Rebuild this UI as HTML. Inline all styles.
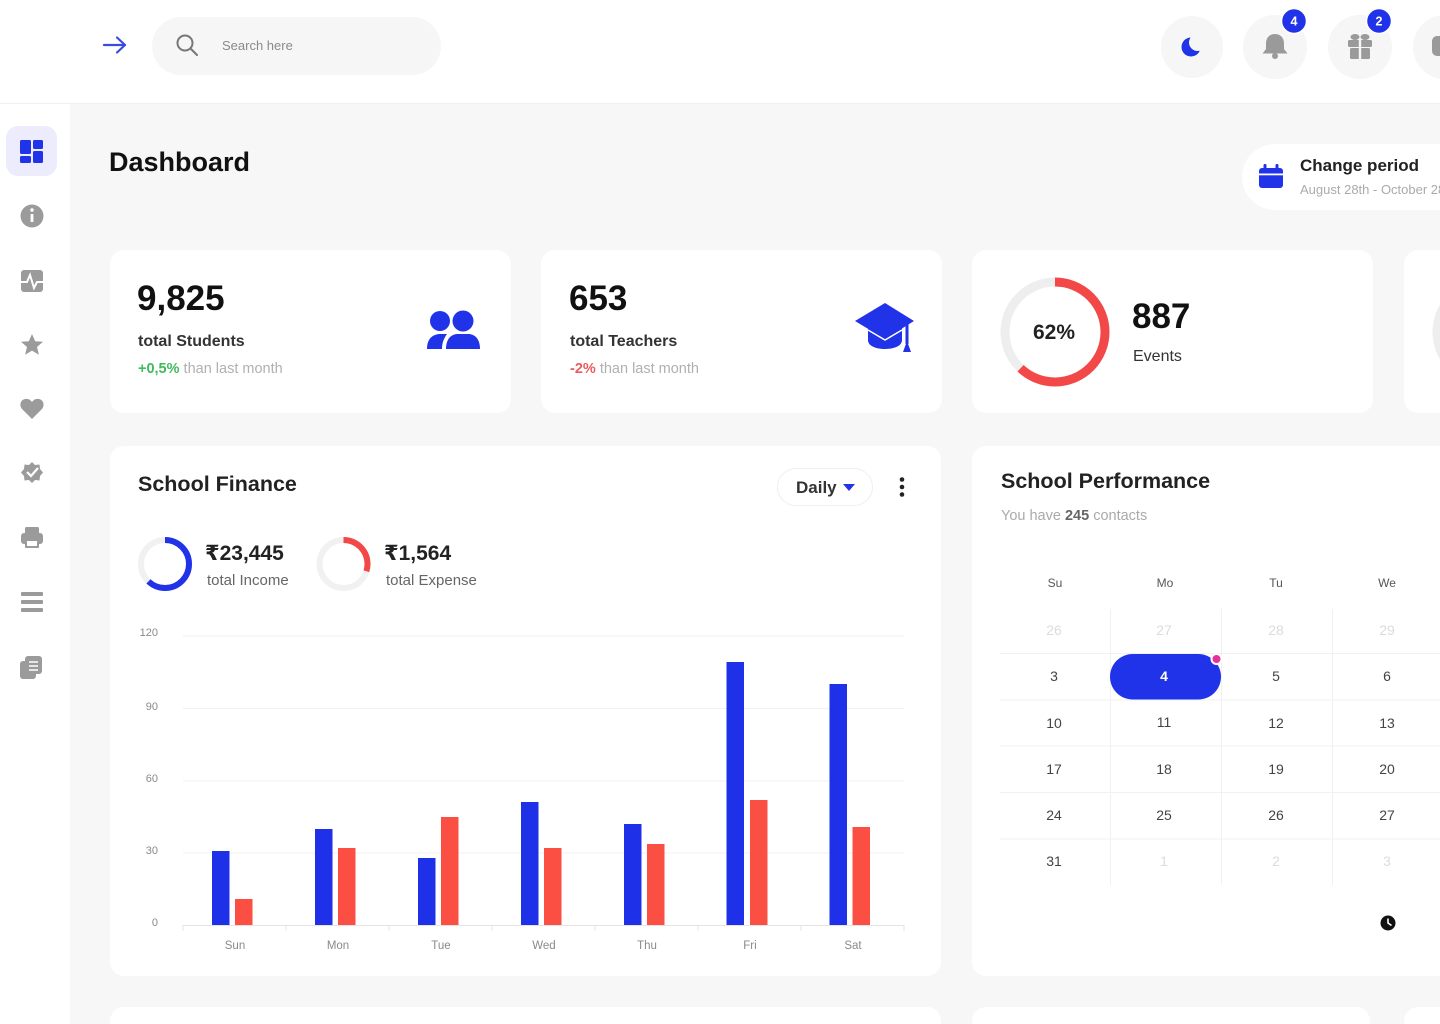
<!DOCTYPE html>
<html><head><meta charset="utf-8">
<style>
*{margin:0;padding:0;box-sizing:border-box}
html,body{width:1440px;height:1024px;overflow:hidden;background:#f7f7f7;font-family:"Liberation Sans","DejaVu Sans",sans-serif;color:#222}
.abs{position:absolute}
.t{position:absolute;white-space:nowrap;line-height:1}
.card{position:absolute;background:#fff;border-radius:14px}
svg{position:absolute;left:0;top:0}
</style></head><body>

<!-- header -->
<div class="abs" style="left:0;top:0;width:1440px;height:104px;background:#fff;border-bottom:1px solid #efefef"></div>
<div class="abs" style="left:0;top:104px;width:70px;height:920px;background:#fff"></div>
<div class="abs" style="left:152px;top:17px;width:289px;height:58px;border-radius:29px;background:#f6f6f6"></div>
<div class="abs" style="left:1161px;top:16px;width:62px;height:62px;border-radius:50%;background:#f6f6f6"></div>
<div class="abs" style="left:1243px;top:15px;width:64px;height:64px;border-radius:50%;background:#f6f6f6"></div>
<div class="abs" style="left:1328px;top:15px;width:64px;height:64px;border-radius:50%;background:#f6f6f6"></div>
<div class="abs" style="left:1413px;top:15px;width:64px;height:64px;border-radius:50%;background:#f6f6f6"></div>
<div class="t" style="left:222px;top:39px;font-size:13px;color:#8a8a8a">Search here</div>

<!-- sidebar active -->
<div class="abs" style="left:6px;top:126px;width:51px;height:50px;border-radius:12px;background:#ececfc"></div>

<div class="t" style="left:109px;top:149px;font-size:27px;font-weight:bold;color:#111">Dashboard</div>

<!-- change period -->
<div class="abs" style="left:1242px;top:144px;width:240px;height:66px;border-radius:33px;background:#fff"></div>
<div class="t" style="left:1300px;top:157px;font-size:17px;font-weight:bold;color:#222">Change period</div>
<div class="t" style="left:1300px;top:183px;font-size:13px;color:#aaa">August 28th - October 28th</div>

<!-- stat cards -->
<div class="card" style="left:110px;top:250px;width:401px;height:163px"></div>
<div class="card" style="left:541px;top:250px;width:401px;height:163px"></div>
<div class="card" style="left:972px;top:250px;width:401px;height:163px"></div>
<div class="card" style="left:1404px;top:250px;width:401px;height:163px"></div>

<div class="t" style="left:137px;top:281px;font-size:35px;font-weight:bold;color:#111">9,825</div>
<div class="t" style="left:138px;top:334px;font-size:16px;font-weight:bold;color:#333">total Students</div>
<div class="t" style="left:138px;top:362px;font-size:14.5px;color:#b0b0b0"><b style="color:#3fba5c">+0,5%</b> than last month</div>

<div class="t" style="left:569px;top:281px;font-size:35px;font-weight:bold;color:#111">653</div>
<div class="t" style="left:570px;top:334px;font-size:16px;font-weight:bold;color:#333">total Teachers</div>
<div class="t" style="left:570px;top:362px;font-size:14.5px;color:#b0b0b0"><b style="color:#ec5b5b">-2%</b> than last month</div>

<div class="t" style="left:1132px;top:299px;font-size:35px;font-weight:bold;color:#111">887</div>
<div class="t" style="left:1133px;top:349px;font-size:16px;color:#333">Events</div>
<div class="t" style="left:1033px;top:322px;font-size:21px;font-weight:bold;color:#222">62%</div>

<!-- finance card -->
<div class="card" style="left:110px;top:446px;width:831px;height:530px"></div>
<div class="t" style="left:138px;top:474px;font-size:21.5px;font-weight:bold;color:#222">School Finance</div>
<div class="abs" style="left:777px;top:468px;width:96px;height:38px;border-radius:19px;border:1px solid #efefef;background:#fff"></div>
<div class="t" style="left:796px;top:479px;font-size:17px;font-weight:bold;color:#333">Daily</div>
<div class="t" style="left:205px;top:543px;font-size:21px;font-weight:bold;color:#222">₹23,445</div>
<div class="t" style="left:207px;top:573px;font-size:15px;color:#666">total Income</div>
<div class="t" style="left:384px;top:543px;font-size:21px;font-weight:bold;color:#222">₹1,564</div>
<div class="t" style="left:386px;top:573px;font-size:15px;color:#666">total Expense</div>

<!-- performance card -->
<div class="card" style="left:972px;top:446px;width:500px;height:530px"></div>
<div class="t" style="left:1001px;top:471px;font-size:21.5px;font-weight:bold;color:#222">School Performance</div>
<div class="t" style="left:1001px;top:509px;font-size:14.5px;color:#aaa">You have <b style="color:#666">245</b> contacts</div>

<!-- bottom cards -->
<div class="abs" style="left:110px;top:1007px;width:831px;height:17px;background:#fff;border-radius:14px 14px 0 0"></div>
<div class="abs" style="left:972px;top:1007px;width:398px;height:17px;background:#fff;border-radius:14px 14px 0 0"></div>
<div class="abs" style="left:1404px;top:1007px;width:36px;height:17px;background:#fff;border-radius:14px 0 0 0"></div>

<svg width="1440" height="1024" viewBox="0 0 1440 1024">
  <!-- header arrow -->
  <g stroke="#3a4be0" stroke-width="2.2" fill="none" stroke-linecap="round" stroke-linejoin="round">
    <line x1="104" y1="45" x2="125" y2="45"/>
    <polyline points="117,37.5 125,45 117,52.5"/>
  </g>
  <!-- search icon -->
  <g stroke="#777" stroke-width="2" fill="none" stroke-linecap="round">
    <circle cx="185" cy="43" r="7.5"/>
    <line x1="190.5" y1="48.5" x2="197" y2="55"/>
  </g>
  <!-- moon -->
  <circle cx="1191" cy="47" r="9.5" fill="#2133e8"/>
  <circle cx="1197.5" cy="42.5" r="8.5" fill="#f6f6f6"/>
  <!-- bell -->
  <path d="M1275 34 c-6 0 -9 4.5 -9 9.5 v5.5 l-3.5 4.5 h25 l-3.5 -4.5 v-5.5 c0 -5 -3 -9.5 -9 -9.5z" fill="#9a9a9a"/>
  <circle cx="1275" cy="56" r="3" fill="#9a9a9a"/>
  <!-- gift -->
  <g fill="#9a9a9a">
    <rect x="1348" y="40" width="24" height="7" rx="1.5"/>
    <rect x="1350" y="48" width="20" height="11" rx="1.5"/>
    <ellipse cx="1355" cy="37" rx="4.5" ry="3"/>
    <ellipse cx="1365" cy="37" rx="4.5" ry="3"/>
  </g>
  <rect x="1358.8" y="38" width="2.4" height="22" fill="#f6f6f6"/>
  <!-- 4th icon partial -->
  <rect x="1432" y="36" width="14" height="20" rx="5" fill="#9a9a9a"/>
  <!-- badges -->
  <circle cx="1294" cy="21" r="12.5" fill="#2133e8" stroke="#fff" stroke-width="1.5"/>
  <text x="1294" y="25.5" font-size="12.5" font-weight="bold" fill="#fff" text-anchor="middle">4</text>
  <circle cx="1379" cy="21" r="12.5" fill="#2133e8" stroke="#fff" stroke-width="1.5"/>
  <text x="1379" y="25.5" font-size="12.5" font-weight="bold" fill="#fff" text-anchor="middle">2</text>

  <!-- calendar icon change period -->
  <rect x="1259" y="168" width="24" height="20" rx="3" fill="#2133e8"/>
  <rect x="1263.5" y="164" width="3" height="6" rx="1.2" fill="#2133e8"/>
  <rect x="1275.5" y="164" width="3" height="6" rx="1.2" fill="#2133e8"/>
  <rect x="1259" y="173.5" width="24" height="1.8" fill="#fff"/>

  <!-- sidebar icons -->
  <g fill="#2133e8">
    <rect x="20" y="140" width="11" height="14" rx="1.5"/>
    <rect x="33" y="140" width="10" height="9" rx="1.5"/>
    <rect x="20" y="156" width="11" height="7" rx="1.5"/>
    <rect x="33" y="151" width="10" height="12" rx="1.5"/>
  </g>
  <g fill="#9b9b9b">
    <circle cx="32" cy="216" r="11.5"/>
    <rect x="21" y="270" width="22" height="22" rx="3"/>
    <polygon points="32,334 35.2,341.2 43,341.8 37,347 38.9,354.7 32,350.6 25.1,354.7 27,347 21,341.8 28.8,341.2"/>
    <path d="M32 419 L22.5 409.5 C19 406 20 400 25 399 C28.5 398.3 30.5 400 32 402 C33.5 400 35.5 398.3 39 399 C44 400 45 406 41.5 409.5 Z"/>
    <polygon points="32,462 35,465 39.5,464.5 40,469 43,472.5 40,476 39.5,480.5 35,480 32,483 29,480 24.5,480.5 24,476 21,472.5 24,469 24.5,464.5 29,465"/>
    <rect x="25" y="527" width="14" height="7" rx="1.5"/>
    <rect x="21" y="533" width="22" height="11" rx="3"/>
    <rect x="25" y="540" width="14" height="8" rx="1"/>
    <rect x="21" y="592" width="22" height="4" rx="1"/>
    <rect x="21" y="600" width="22" height="4" rx="1"/>
    <rect x="21" y="608" width="22" height="4" rx="1"/>
    <rect x="20" y="661" width="16" height="18" rx="3"/>
    <rect x="25" y="656" width="17" height="18" rx="3"/>
  </g>
  <rect x="30.6" y="214" width="2.8" height="8" fill="#fff"/>
  <circle cx="32" cy="210" r="1.8" fill="#fff"/>
  <polyline points="21,282 27,282 30,275 34,288 37,282 43,282" stroke="#fff" stroke-width="2" fill="none"/>
  <polyline points="27,472 31,476 38,468" stroke="#fff" stroke-width="2.2" fill="none"/>
  <rect x="27" y="541" width="10" height="5" fill="#fff"/>
  <g stroke="#fff" stroke-width="1.5"><line x1="29" y1="662" x2="38" y2="662"/><line x1="29" y1="666" x2="38" y2="666"/><line x1="29" y1="670" x2="38" y2="670"/></g>

  <!-- people icon -->
  <g fill="#2133e8">
    <circle cx="440" cy="321" r="10"/>
    <circle cx="463" cy="321" r="10.5"/>
    <path d="M427 349 C427 340 431 335 439 334 L447 334 C444 338 442 343 442 349 Z"/>
    <path d="M446 349 C446 339 451 334 458 334 L468 334 C475 334 480 339 480 349 Z"/>
  </g>
  <!-- grad cap -->
  <g fill="#2133e8">
    <polygon points="885,303 914,321 885,339 855,321"/>
    <path d="M868 328 L885 338 L902 328 L902 340 C902 346 894 349 885 349 C876 349 868 346 868 340 Z"/>
    <rect x="905.5" y="322" width="3" height="22"/>
    <path d="M903 352 L907 341 L911 352 Z"/>
  </g>
  <path d="M868 330 L885 340 L902 330" stroke="#fff" stroke-width="1.5" fill="none"/>

  <!-- events donut -->
  <circle cx="1055" cy="332" r="50" fill="none" stroke="#eeeeee" stroke-width="9"/>
  <circle cx="1055" cy="332" r="50" fill="none" stroke="#f24848" stroke-width="9" stroke-dasharray="194.8 400" transform="rotate(-90 1055 332)"/>
  <circle cx="1487" cy="332" r="50" fill="none" stroke="#eeeeee" stroke-width="9"/>

  <!-- finance donuts -->
  <circle cx="165" cy="564" r="24" fill="none" stroke="#f1f1f1" stroke-width="6"/>
  <circle cx="165" cy="564" r="24" fill="none" stroke="#2133e8" stroke-width="6" stroke-dasharray="93.5 200" transform="rotate(-90 165 564)"/>
  <circle cx="343.5" cy="564" r="24" fill="none" stroke="#f1f1f1" stroke-width="6"/>
  <circle cx="343.5" cy="564" r="24" fill="none" stroke="#f24848" stroke-width="6" stroke-dasharray="45 200" transform="rotate(-90 343.5 564)"/>

  <!-- daily caret / kebab -->
  <polygon points="843,484 855,484 849,491" fill="#2133e8"/>
  <circle cx="902" cy="479.5" r="2.3" fill="#222"/>
  <circle cx="902" cy="487" r="2.3" fill="#222"/>
  <circle cx="902" cy="494.5" r="2.3" fill="#222"/>

  <!-- chart -->
  <g stroke="#f1f1f1" stroke-width="1">
    <line x1="183" y1="636" x2="904" y2="636"/>
    <line x1="183" y1="708.5" x2="904" y2="708.5"/>
    <line x1="183" y1="781" x2="904" y2="781"/>
    <line x1="183" y1="853" x2="904" y2="853"/>
  </g>
  <line x1="183" y1="925.5" x2="904" y2="925.5" stroke="#e4e4e4"/>
  <g stroke="#e4e4e4">
    <line x1="183" y1="925" x2="183" y2="931"/><line x1="286" y1="925" x2="286" y2="931"/>
    <line x1="389" y1="925" x2="389" y2="931"/><line x1="492" y1="925" x2="492" y2="931"/>
    <line x1="595" y1="925" x2="595" y2="931"/><line x1="698" y1="925" x2="698" y2="931"/>
    <line x1="801" y1="925" x2="801" y2="931"/><line x1="904" y1="925" x2="904" y2="931"/>
  </g>
  <g font-size="11" fill="#8a8a8a" text-anchor="end">
    <text x="158" y="636">120</text>
    <text x="158" y="710">90</text>
    <text x="158" y="782">60</text>
    <text x="158" y="854">30</text>
    <text x="158" y="926">0</text>
  </g>
  <g font-size="11.5" fill="#8a8a8a" text-anchor="middle">
    <text x="235" y="949">Sun</text><text x="338" y="949">Mon</text><text x="441" y="949">Tue</text>
    <text x="544" y="949">Wed</text><text x="647" y="949">Thu</text><text x="750" y="949">Fri</text>
    <text x="853" y="949">Sat</text>
  </g>
  <g fill="#1f31e8">
    <rect x="212" y="851" width="17.5" height="74"/>
    <rect x="315" y="829" width="17.5" height="96"/>
    <rect x="418" y="858" width="17.5" height="67"/>
    <rect x="521" y="802" width="17.5" height="123"/>
    <rect x="624" y="824" width="17.5" height="101"/>
    <rect x="726.5" y="662" width="17.5" height="263"/>
    <rect x="829.5" y="684" width="17.5" height="241"/>
  </g>
  <g fill="#fb4f44">
    <rect x="235" y="899" width="17.5" height="26"/>
    <rect x="338" y="848" width="17.5" height="77"/>
    <rect x="441" y="817" width="17.5" height="108"/>
    <rect x="544" y="848" width="17.5" height="77"/>
    <rect x="647" y="844" width="17.5" height="81"/>
    <rect x="750" y="800" width="17.5" height="125"/>
    <rect x="852.5" y="827" width="17.5" height="98"/>
  </g>

  <!-- calendar -->
  <g stroke="#f1f1f1" stroke-width="1">
    <line x1="1000" y1="653.5" x2="1440" y2="653.5"/>
    <line x1="1000" y1="700" x2="1440" y2="700"/>
    <line x1="1000" y1="746" x2="1440" y2="746"/>
    <line x1="1000" y1="792.5" x2="1440" y2="792.5"/>
    <line x1="1000" y1="839" x2="1440" y2="839"/>
    <line x1="1110.5" y1="609" x2="1110.5" y2="885"/>
    <line x1="1221.5" y1="609" x2="1221.5" y2="885"/>
    <line x1="1332.5" y1="609" x2="1332.5" y2="885"/>
  </g>
  <rect x="1110" y="654" width="111" height="45.5" rx="22.75" fill="#2133e8"/>
  <circle cx="1216.5" cy="659" r="5" fill="#e8309a" stroke="#fff" stroke-width="2"/>
  <g font-size="12" fill="#555" text-anchor="middle">
    <text x="1055" y="587">Su</text><text x="1165" y="587">Mo</text><text x="1276" y="587">Tu</text><text x="1387" y="587">We</text>
  </g>
  <g font-size="14" text-anchor="middle" fill="#444">
    <g fill="#dcdcdc"><text x="1054" y="635">26</text><text x="1164" y="635">27</text><text x="1276" y="635">28</text><text x="1387" y="635">29</text></g>
    <text x="1054" y="681">3</text><text x="1164" y="681" fill="#fff" font-weight="bold">4</text><text x="1276" y="681">5</text><text x="1387" y="681">6</text>
    <text x="1054" y="728">10</text><text x="1164" y="727">11</text><text x="1276" y="728">12</text><text x="1387" y="728">13</text>
    <text x="1054" y="774">17</text><text x="1164" y="774">18</text><text x="1276" y="774">19</text><text x="1387" y="774">20</text>
    <text x="1054" y="820">24</text><text x="1164" y="820">25</text><text x="1276" y="820">26</text><text x="1387" y="820">27</text>
    <text x="1054" y="866">31</text>
    <g fill="#dcdcdc"><text x="1164" y="866">1</text><text x="1276" y="866">2</text><text x="1387" y="866">3</text></g>
  </g>
  <circle cx="1388" cy="923" r="7.5" fill="#111"/>
  <polyline points="1388,918.5 1388,923 1391.5,925.5" stroke="#fff" stroke-width="1.6" fill="none"/>
</svg>
</body></html>
